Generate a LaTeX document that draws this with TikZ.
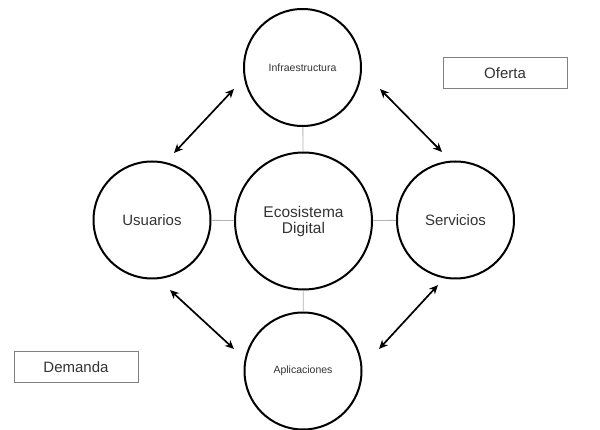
\documentclass[tikz,border=0pt]{standalone}
\usepackage{fontspec}
\setmainfont{Liberation Sans}
\usetikzlibrary{arrows.meta}
\definecolor{txt}{HTML}{333333}
\begin{document}
\begin{tikzpicture}[x=1pt,y=-1pt,
  big/.style={circle,draw=black,line width=2pt,minimum size=137pt,inner sep=0pt,text=txt,font=\fontsize{15.5}{17}\selectfont,align=center},
  sat/.style={circle,draw=black,line width=2pt,minimum size=117pt,inner sep=0pt,text=txt},
  satbig/.style={sat,font=\fontsize{15}{17}\selectfont},
  satsmall/.style={sat,font=\fontsize{10.5}{12}\selectfont},
  link/.style={draw=gray!60,line width=0.9pt},
  dbl/.style={line width=1.7pt,{Stealth[length=9pt,width=8pt]}-{Stealth[length=9pt,width=8pt]}},
  label/.style={draw=gray,line width=0.9pt,minimum width=124pt,minimum height=31pt,inner sep=0pt,text=txt,font=\fontsize{15}{17}\selectfont}]
\useasboundingbox (0,0) rectangle (600,430);
\node[big] (eco) at (303.5,221) {Ecosistema\\[-1pt]Digital};
\node[satsmall] (inf) at (302.5,67.5) {Infraestructura};
\node[satsmall] (apl) at (303,371) {Aplicaciones};
\node[satbig] (usu) at (152,220) {Usuarios};
\node[satbig] (ser) at (455.5,220) {Servicios};
\draw[link] (inf) -- (eco);
\draw[link] (apl) -- (eco);
\draw[link] (usu) -- (eco);
\draw[link] (ser) -- (eco);
\coordinate (a1) at (174,153);
\coordinate (a2) at (234,89);
\coordinate (b1) at (380,89);
\coordinate (b2) at (442,152);
\coordinate (c1) at (170,290);
\coordinate (c2) at (234,349);
\coordinate (d1) at (379,349);
\coordinate (d2) at (438,285);
\draw[dbl] (a1) -- (a2);
\draw[dbl] (b1) -- (b2);
\draw[dbl] (c1) -- (c2);
\draw[dbl] (d1) -- (d2);
\node[label] (ofe) at (505,73) {Oferta};
\node[label] (dem) at (76,367) {Demanda};
\end{tikzpicture}
\end{document}
